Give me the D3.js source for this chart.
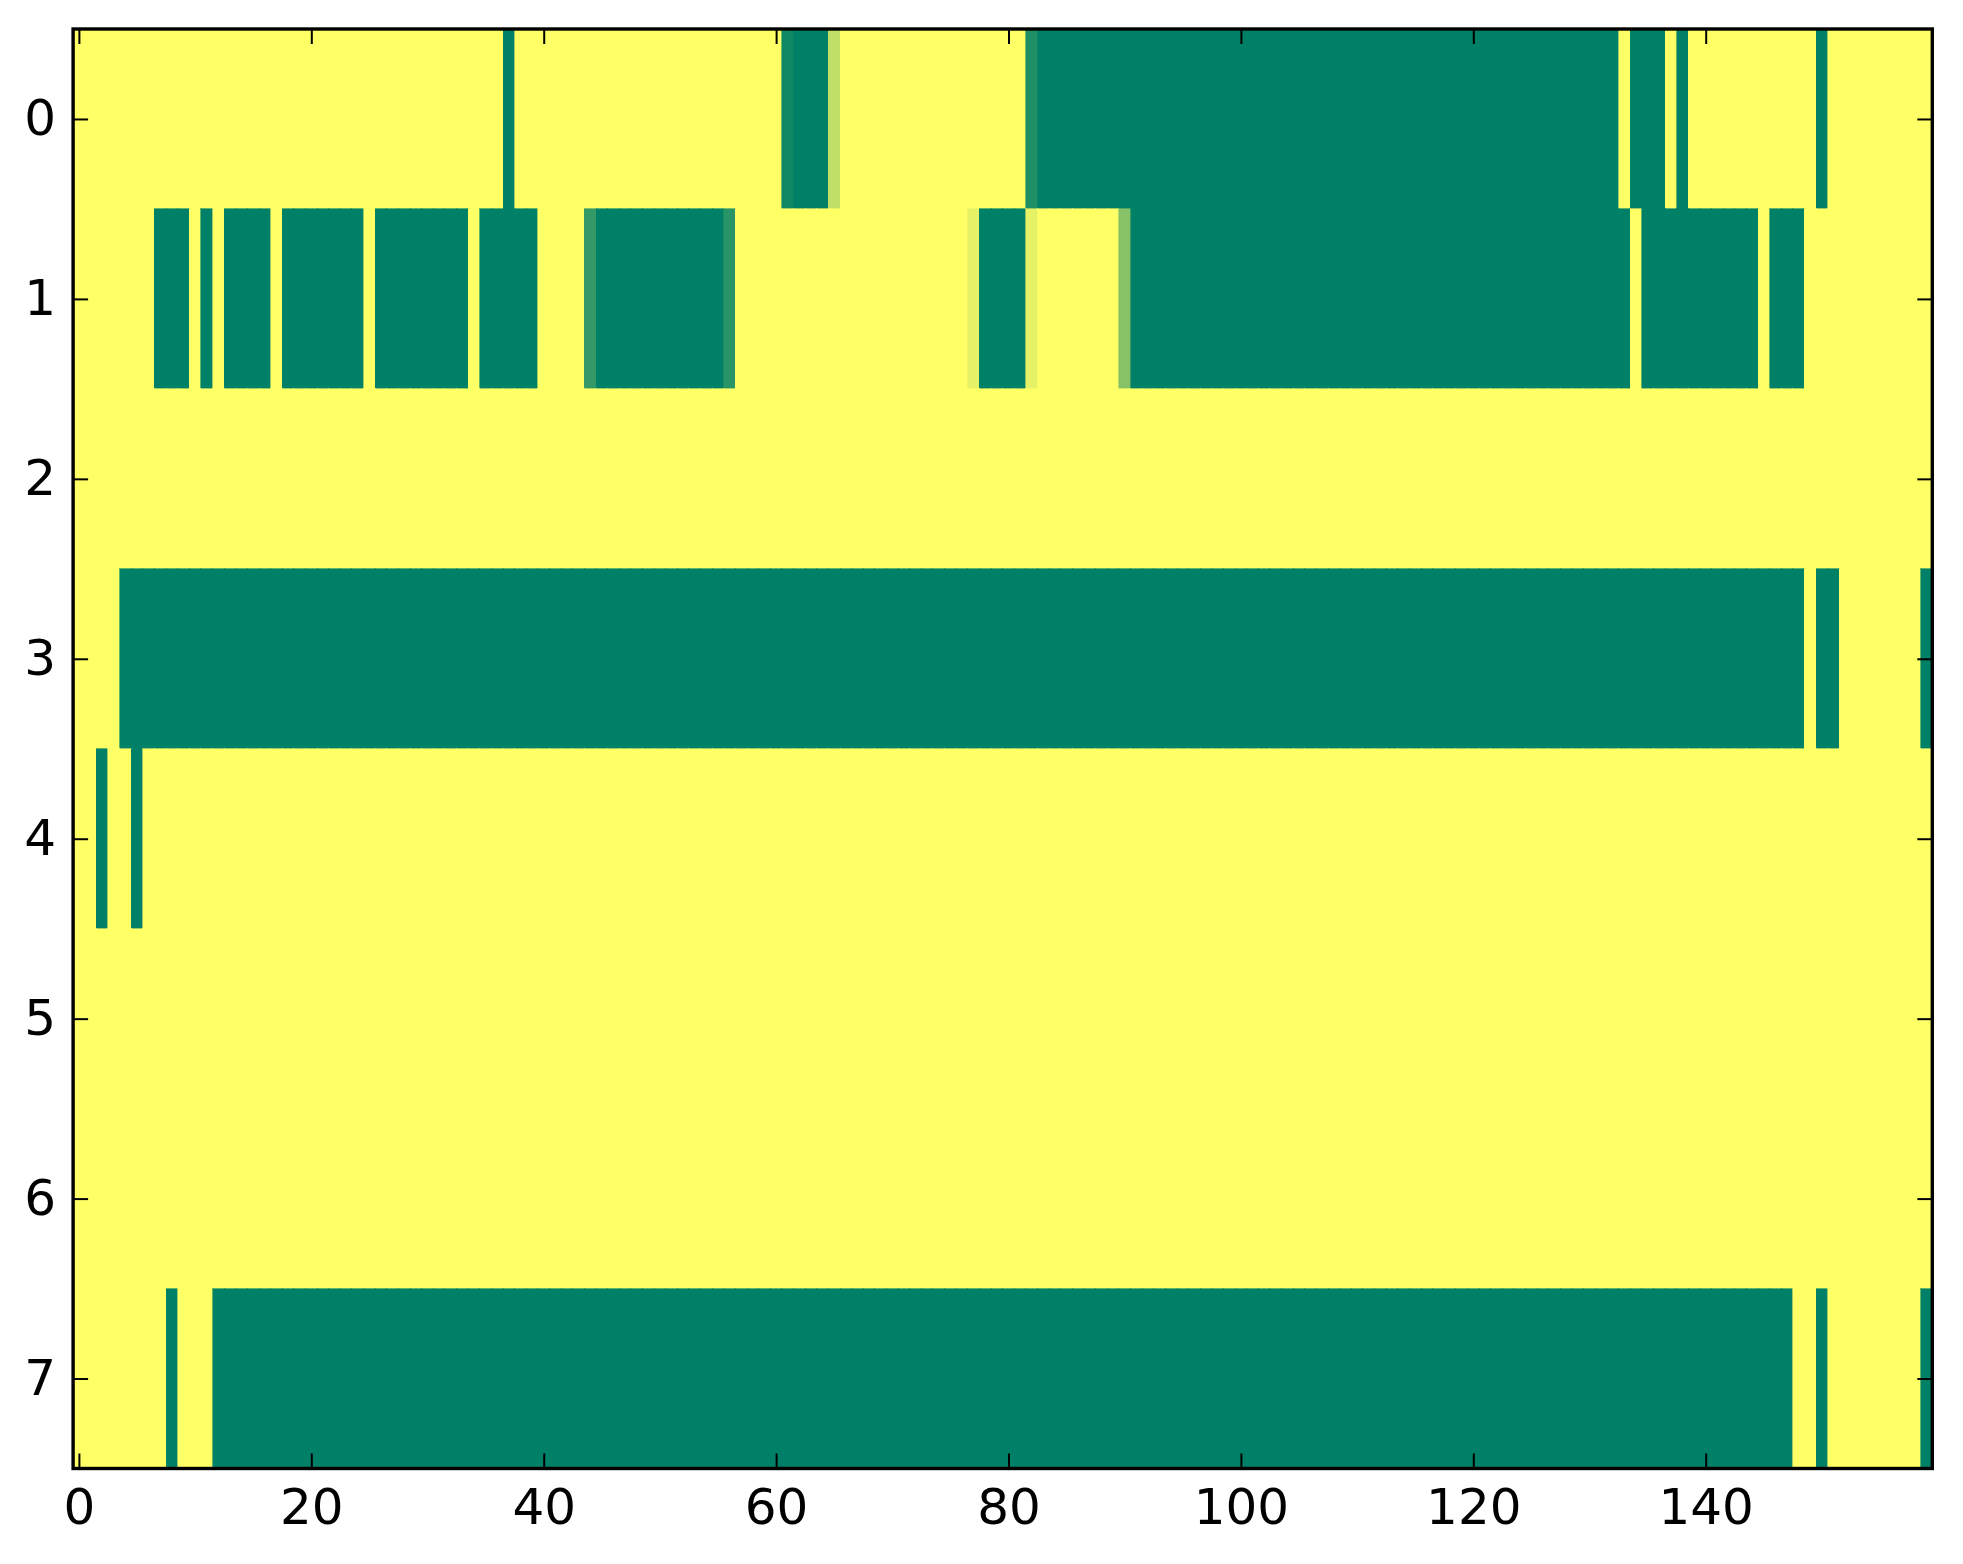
<!DOCTYPE html>
<html>
<head>
<meta charset="utf-8">
<script src="https://cdn.jsdelivr.net/npm/d3@7"></script>
<style>
    body { margin: 0; background: #ffffff; }
    svg { display: block; }
    .tick text { font-family: "DejaVu Sans", sans-serif; font-size: 50px; fill: #000000; }
    .tick line { stroke: #000000; stroke-width: 2; }
    .domain { display: none; }
</style>
</head>
<body>
<svg></svg>
<script>
// each row is a list of [value, run length] pairs, read left to right (160 columns)
var row0 = [[1, 37], [0, 1], [1, 23], [0.06, 1], [0, 3], [0.75, 1], [1, 16], [0.12, 1], [0, 50],
            [1, 1], [0, 3], [1, 1], [0, 1], [1, 11], [0, 1], [1, 9]];
var row1 = [[1, 7], [0, 3], [1, 1], [0, 1], [1, 1], [0, 4], [1, 1], [0, 7], [1, 1], [0, 8], [1, 1],
            [0, 5], [1, 4], [0.2, 1], [0, 11], [0.16, 1], [1, 20], [0.9, 1], [0, 4], [0.9, 1], [1, 7],
            [0.53, 1], [0, 43], [1, 1], [0, 10], [1, 1], [0, 3], [1, 11]];
var row2 = [[1, 160]];
var row3 = [[1, 4], [0, 145], [1, 1], [0, 2], [1, 7], [0, 1]];
var row4 = [[1, 2], [0, 1], [1, 2], [0, 1], [1, 154]];
var row5 = [[1, 160]];
var row6 = [[1, 160]];
var row7 = [[1, 8], [0, 1], [1, 3], [0, 136], [1, 2], [0, 1], [1, 8], [0, 1]];
var rows = [row0, row1, row2, row3, row4, row5, row6, row7];

var xTicks = [0, 20, 40, 60, 80, 100, 120, 140];
var yTicks = [0, 1, 2, 3, 4, 5, 6, 7];
var NCOLS = 160;

var WIDTH = 1963, HEIGHT = 1564;
var LEFT = 73.1, RIGHT = 1932.3, TOP = 29, BOTTOM = 1468.5;
var TICK = 15;

var svg = d3.select('svg')
    .attr('width', WIDTH)
    .attr('height', HEIGHT);

var x = d3.scaleLinear().domain([-0.5, NCOLS - 0.5]).range([LEFT, RIGHT]);
var y = d3.scaleLinear().domain([-0.5, rows.length - 0.5]).range([TOP, BOTTOM]);
// matplotlib "summer": linear in rgb from (0, .5, .4) to (1, 1, .4)
var color = d3.scaleLinear().domain([0, 1]).range(['#008066', '#ffff66']).interpolate(d3.interpolateRgb);

function expand(runs, r) {
    var cells = [];
    var c = 0;
    runs.forEach(function (run) {
        for (var k = 0; k < run[1]; ++k) {
            cells.push({ row: r, col: c, v: run[0] });
            c++;
        }
    });
    return cells;
}

var cells = [];
rows.forEach(function (runs, r) {
    cells = cells.concat(expand(runs, r));
});

svg.append('g')
    .attr('shape-rendering', 'crispEdges')
    .selectAll('rect')
    .data(cells)
    .enter()
    .append('rect')
    .attr('x', function (d) { return x(d.col - 0.5); })
    .attr('y', function (d) { return y(d.row - 0.5); })
    .attr('width', function (d) { return x(d.col + 0.5) - x(d.col - 0.5); })
    .attr('height', function (d) { return y(d.row + 0.5) - y(d.row - 0.5); })
    .style('fill', function (d) { return color(d.v); })
    .style('stroke', function (d) { return color(d.v); })
    .style('stroke-width', 0.6);

// ticks point inward, labels only on bottom and left
svg.append('g')
    .attr('transform', 'translate(0,' + BOTTOM + ')')
    .call(d3.axisBottom(x).tickValues(xTicks).tickSizeInner(-TICK).tickSizeOuter(0).tickPadding(20));
svg.append('g')
    .attr('transform', 'translate(0,' + TOP + ')')
    .call(d3.axisTop(x).tickValues(xTicks).tickSizeInner(-TICK).tickSizeOuter(0).tickFormat(''));
svg.append('g')
    .attr('transform', 'translate(' + LEFT + ',0)')
    .call(d3.axisLeft(y).tickValues(yTicks).tickSizeInner(-TICK).tickSizeOuter(0).tickPadding(17));
svg.append('g')
    .attr('transform', 'translate(' + RIGHT + ',0)')
    .call(d3.axisRight(y).tickValues(yTicks).tickSizeInner(-TICK).tickSizeOuter(0).tickFormat(''));

svg.selectAll('.tick text').attr('font-family', null).attr('font-size', null);

svg.append('rect')
    .attr('x', LEFT)
    .attr('y', TOP)
    .attr('width', RIGHT - LEFT)
    .attr('height', BOTTOM - TOP)
    .style('fill', 'none')
    .style('stroke', '#000000')
    .style('stroke-width', 3.4);
</script>
</body>
</html>
